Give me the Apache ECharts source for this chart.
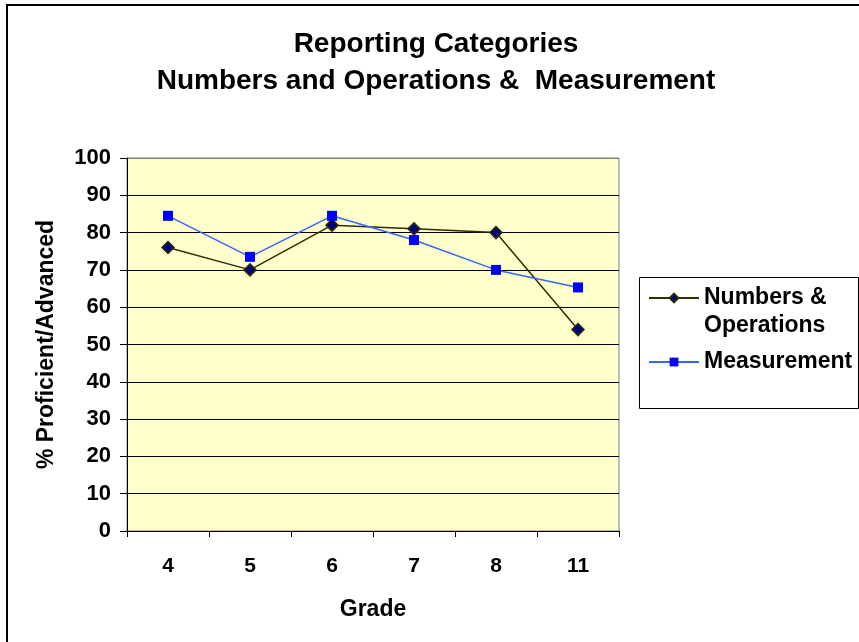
<!DOCTYPE html>
<html>
<head>
<meta charset="utf-8">
<script src="https://cdn.jsdelivr.net/npm/echarts@6/dist/echarts.min.js"></script>
<style>
  html, body { margin: 0; padding: 0; background: #fff; }
  #chart { width: 859px; height: 642px; }
</style>
</head>
<body>
<div id="chart"></div>
<script>
// data
const grades = ["4", "5", "6", "7", "8", "11"];
const numbersOps = [76, 70, 82, 81, 80, 54];
const measurement = [84.5, 73.5, 84.5, 78, 70, 65.3];
const yTicks = { min: 0, max: 100, interval: 10 };

const font = "Liberation Sans, Arial, sans-serif";

let myChart = echarts.init(document.getElementById("chart"));
myChart.setOption({
  backgroundColor: "#fff",
  animation: false,
  title: {
    text: "Reporting Categories\nNumbers and Operations &  Measurement",
    left: 436,
    top: 26,
    padding: 0,
    textAlign: "center",
    textStyle: {
      fontFamily: font,
      fontWeight: "bold",
      fontSize: 28,
      lineHeight: 37,
      color: "#000",
    },
  },
  grid: {
    left: 127,
    top: 158,
    width: 492,
    height: 373,
    show: true,
    backgroundColor: "#FFFFCC",
    borderColor: "#808080",
    borderWidth: 1,
  },
  legend: {
    orient: "vertical",
    left: 648,
    top: 256,
    padding: 0,
    itemGap: 8,
    itemWidth: 50,
    itemHeight: 11,
    textStyle: {
      fontFamily: font,
      fontWeight: "bold",
      fontSize: 23,
      lineHeight: 28,
      color: "#000",
    },
    data: ["Numbers & Operations", "Measurement"],
    formatter: function (name) {
      // 空行让第一行和图标对齐
      return name === "Numbers & Operations" ? "\nNumbers &\nOperations" : name;
    },
  },
  xAxis: {
    type: "category",
    data: grades,
    name: "Grade",
    nameLocation: "middle",
    nameGap: 67,
    nameTextStyle: {
      fontFamily: font,
      fontWeight: "bold",
      fontSize: 23,
      color: "#000",
    },
    axisLine: { show: true, lineStyle: { color: "#000", width: 1 } },
    axisTick: { show: true, length: 6, lineStyle: { color: "#000" } },
    axisLabel: {
      margin: 25,
      fontFamily: font,
      fontWeight: "bold",
      fontSize: 21,
      color: "#000",
    },
    splitLine: { show: false },
  },
  yAxis: {
    type: "value",
    min: yTicks.min,
    max: yTicks.max,
    interval: yTicks.interval,
    name: "% Proficient/Advanced",
    nameLocation: "middle",
    nameGap: 69,
    nameTextStyle: {
      fontFamily: font,
      fontWeight: "bold",
      fontSize: 23,
      color: "#000",
    },
    axisLine: { show: true, lineStyle: { color: "#000", width: 1 } },
    axisTick: { show: true, length: 7, lineStyle: { color: "#000" } },
    axisLabel: {
      margin: 16,
      fontFamily: font,
      fontWeight: "bold",
      fontSize: 22,
      color: "#000",
    },
    splitLine: {
      show: true,
      lineStyle: {
        color: ["#000", "#000", "#000", "#000", "#000", "#000", "#000", "#000", "#000", "#000", "#808080"],
        width: 1,
      },
    },
  },
  series: [
    {
      name: "Numbers & Operations",
      type: "line",
      data: numbersOps,
      symbol: "diamond",
      symbolSize: 12,
      lineStyle: { color: "#2E2E00", width: 1.5 },
      itemStyle: { color: "#000080", borderColor: "#2E2E00", borderWidth: 1.5 },
      z: 3,
    },
    {
      name: "Measurement",
      type: "line",
      data: measurement,
      symbol: "rect",
      symbolSize: 10,
      lineStyle: { color: "#3366FF", width: 1.5 },
      itemStyle: { color: "#0000FF", borderColor: "#0000FF", borderWidth: 0 },
      z: 4,
    },
  ],
  graphic: [
    {
      type: "rect",
      shape: { x: 7, y: 5, width: 900, height: 700 },
      style: { fill: "none", stroke: "#000", lineWidth: 2 },
      silent: true,
    },
    {
      type: "rect",
      shape: { x: 639.5, y: 277.5, width: 219, height: 131 },
      style: { fill: "none", stroke: "#000", lineWidth: 1 },
      silent: true,
    },
  ],
});
</script>
</body>
</html>
